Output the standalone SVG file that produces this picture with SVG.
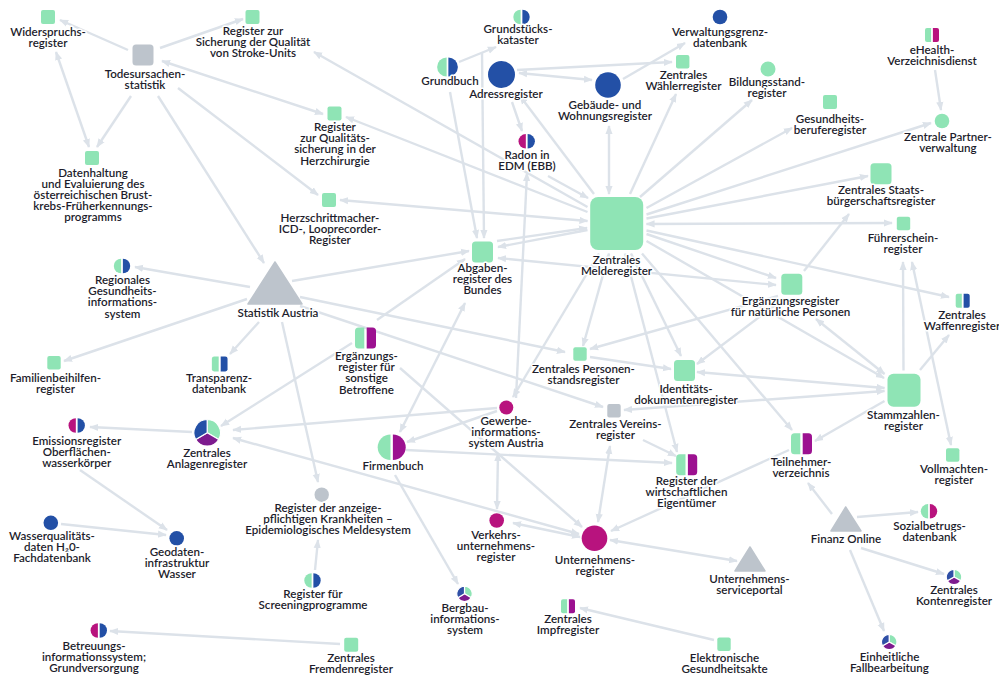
<svg xmlns="http://www.w3.org/2000/svg" width="999" height="675" viewBox="0 0 999 675">
<style>
.t{font-family:Lato,"Noto Sans","DejaVu Sans",sans-serif;font-size:11.6px;font-weight:600;fill:#1d1d2c;text-anchor:middle;stroke:#fff;stroke-width:3px;stroke-linejoin:round;paint-order:stroke}
.c line{stroke:#dce2e9;stroke-width:2.4;fill:none;marker-end:url(#a)}
.c line.b{marker-start:url(#a)}
.g{fill:#8fe4b5}.bl{fill:#2350a6}.m{fill:#b8137e}.p{fill:#9c1190}.gr{fill:#bdc4cc}
.pie path{stroke:#fff;stroke-width:1.2;stroke-linejoin:round}
</style>
<defs>
<marker id="a" viewBox="0 0 10 10" refX="9" refY="5" markerWidth="9" markerHeight="9" markerUnits="userSpaceOnUse" orient="auto-start-reverse"><path d="M0,1L10,5L0,9Z" fill="#dce2e9"/></marker>
<rect id="sq14" x="-7" y="-7" width="14" height="14" rx="2"/>
<rect id="sq13" x="-6.7" y="-6.7" width="13.4" height="13.4" rx="2"/>
<rect id="sq21" x="-10.5" y="-10.5" width="21" height="21" rx="3.5"/>
<path id="hcL7" d="M-0.9,-7.3A7.3,7.3 0 0 0 -0.9,7.3Z"/>
<path id="hcR7" d="M0.9,-7.3A7.3,7.3 0 0 1 0.9,7.3Z"/>
<path id="hcL13" d="M-1.2,-12.8A12.8,12.8 0 0 0 -1.2,12.8Z"/>
<path id="hcR13" d="M1.2,-12.8A12.8,12.8 0 0 1 1.2,12.8Z"/>
<path id="hrL14" d="M-0.9,-7H-5A2,2 0 0 0 -7,-5V5A2,2 0 0 0 -5,7H-0.9Z"/>
<path id="hrR14" d="M0.9,-7H5A2,2 0 0 1 7,-5V5A2,2 0 0 1 5,7H0.9Z"/>
<path id="hrL21" d="M-1.2,-10.5H-7A3.5,3.5 0 0 0 -10.5,-7V7A3.5,3.5 0 0 0 -7,10.5H-1.2Z"/>
<path id="hrR21" d="M1.2,-10.5H7A3.5,3.5 0 0 1 10.5,-7V7A3.5,3.5 0 0 1 7,10.5H1.2Z"/>
<g id="pie7" class="pie">
<path fill="#8fe4b5" d="M0,0V-7.7A7.7,7.7 0 0 1 6.67,3.85Z"/>
<path fill="#7d1b8e" d="M0,0L6.67,3.85A7.7,7.7 0 0 1 -6.67,3.85Z"/>
<path fill="#2f4fa6" d="M0,0L-6.67,3.85A7.7,7.7 0 0 1 0,-7.7Z"/>
</g>
<g id="pie13" class="pie">
<path fill="#8fe4b5" d="M0,0V-13.3A13.3,13.3 0 0 1 11.52,6.65Z"/>
<path fill="#7d1b8e" d="M0,0L11.52,6.65A13.3,13.3 0 0 1 -11.52,6.65Z"/>
<path fill="#2350a6" d="M0,0L-11.52,6.65A13.3,13.3 0 0 1 0,-13.3Z"/>
</g>
</defs>
<rect width="999" height="675" fill="#fff"/>
<g id="connectors" class="c">
<line x1="128" y1="50" x2="60" y2="20"/>
<line x1="160" y1="48" x2="243" y2="19"/>
<line x1="131" y1="96" x2="97" y2="147"/>
<line class="b" x1="56" y1="52" x2="89" y2="147"/>
<line class="b" x1="162" y1="61" x2="323" y2="114"/>
<line x1="178" y1="88" x2="318" y2="195"/>
<line x1="158" y1="96" x2="264" y2="263"/>
<line x1="587.5" y1="207" x2="314" y2="52"/>
<line x1="587.5" y1="212" x2="346" y2="117"/>
<line class="b" x1="587.5" y1="221" x2="340" y2="200"/>
<line x1="459" y1="62" x2="496" y2="47"/>
<line x1="450" y1="92" x2="477" y2="238"/>
<line x1="482" y1="52" x2="484" y2="238"/>
<line class="b" x1="519" y1="73" x2="592" y2="80"/>
<line x1="517" y1="70" x2="672" y2="62"/>
<line x1="623" y1="79" x2="685" y2="43"/>
<line x1="512" y1="102" x2="522" y2="131"/>
<line x1="594" y1="194" x2="520" y2="96"/>
<line class="b" x1="609" y1="194" x2="609" y2="126"/>
<line x1="630" y1="194" x2="676" y2="94"/>
<line x1="640" y1="197" x2="752" y2="100"/>
<line x1="646.5" y1="208" x2="792" y2="128"/>
<line x1="646.5" y1="214.5" x2="931" y2="123"/>
<line x1="646.5" y1="218.5" x2="868" y2="176"/>
<line class="b" x1="646.5" y1="224" x2="892" y2="223"/>
<line x1="646.5" y1="230.5" x2="949" y2="297"/>
<line x1="646.5" y1="234" x2="776" y2="278"/>
<line x1="646.5" y1="241" x2="884" y2="378"/>
<line x1="642" y1="253.5" x2="792" y2="430"/>
<line x1="625" y1="253.5" x2="677" y2="452"/>
<line x1="631" y1="253.5" x2="681" y2="356"/>
<line class="b" x1="609" y1="253.5" x2="583" y2="346"/>
<line x1="599" y1="253.5" x2="513" y2="397"/>
<line x1="587.5" y1="230" x2="498" y2="247"/>
<line x1="497" y1="241" x2="587" y2="228"/>
<line class="b" x1="498" y1="258" x2="776" y2="285"/>
<line x1="548" y1="176" x2="588" y2="198"/>
<line x1="935" y1="70" x2="941" y2="110"/>
<line x1="516" y1="398" x2="527" y2="173"/>
<line x1="250" y1="287" x2="135" y2="267"/>
<line x1="247" y1="299" x2="64" y2="361"/>
<line x1="259" y1="322" x2="230" y2="354"/>
<line x1="282" y1="322" x2="318" y2="482"/>
<line x1="292" y1="281" x2="469" y2="251"/>
<line x1="300" y1="297" x2="565" y2="352"/>
<line x1="300" y1="306" x2="603" y2="407"/>
<line x1="352" y1="343" x2="221" y2="426"/>
<line x1="377" y1="320" x2="465" y2="259"/>
<line x1="400" y1="368" x2="582" y2="527"/>
<line class="b" x1="465" y1="303" x2="400" y2="432"/>
<line x1="497" y1="408" x2="233" y2="430"/>
<line x1="497" y1="411" x2="407" y2="442"/>
<line class="b" x1="498" y1="453" x2="497" y2="509"/>
<line x1="406" y1="450" x2="672" y2="463"/>
<line x1="395" y1="475" x2="458" y2="584"/>
<line x1="192" y1="432" x2="90" y2="427"/>
<line class="b" x1="233" y1="438" x2="579" y2="534"/>
<line class="b" x1="513" y1="523" x2="580" y2="537"/>
<line class="b" x1="610" y1="540" x2="737" y2="561"/>
<line class="b" x1="610" y1="446" x2="598" y2="522"/>
<line x1="643" y1="440" x2="676" y2="456"/>
<line class="b" x1="884.5" y1="391" x2="624" y2="410"/>
<line x1="789" y1="450" x2="611" y2="531"/>
<line x1="80" y1="470" x2="167" y2="530"/>
<line x1="61" y1="524" x2="166" y2="535"/>
<line x1="315" y1="570" x2="318" y2="540"/>
<line x1="340" y1="644" x2="110" y2="631"/>
<line x1="714" y1="640" x2="580" y2="608"/>
<line x1="832" y1="514" x2="808" y2="483"/>
<line x1="857" y1="517" x2="918" y2="512"/>
<line x1="861" y1="548" x2="944" y2="574"/>
<line x1="850" y1="550" x2="884" y2="631"/>
<line x1="884.5" y1="401" x2="815" y2="441"/>
<line class="b" x1="912" y1="262" x2="951" y2="445"/>
<line x1="903.5" y1="370.5" x2="903" y2="262"/>
<line x1="920" y1="370" x2="949" y2="335"/>
<line class="b" x1="884.5" y1="374" x2="816" y2="319"/>
<line class="b" x1="884.5" y1="388" x2="697" y2="372"/>
<line x1="804" y1="271" x2="849" y2="214"/>
<line x1="778" y1="296" x2="590" y2="349"/>
<line x1="782" y1="300" x2="697" y2="364"/>
<line x1="590" y1="357" x2="671" y2="369"/>
</g>
<g id="n-widerspruch"><use href="#sq14" x="48" y="17" class="g"/><text class="t" x="48" y="36">Widerspruchs-<tspan x="48" dy="11.2">register</tspan></text></g>
<g id="n-todesursachen"><use href="#sq21" x="143" y="55" class="gr"/><text class="t" x="145" y="77.5">Todesursachen-<tspan x="145" dy="11.2">statistik</tspan></text></g>
<g id="n-stroke"><use href="#sq14" x="252.5" y="17" class="g"/><text class="t" x="253" y="35">Register zur<tspan x="253" dy="11.2">Sicherung der Qualität</tspan><tspan x="253" dy="11.2">von Stroke-Units</tspan></text></g>
<g id="n-datenhaltung"><use href="#sq14" x="92" y="158" class="g"/><text class="t" x="93" y="176.5">Datenhaltung<tspan x="93" dy="11.2">und Evaluierung des</tspan><tspan x="93" dy="11.2">österreichischen Brust-</tspan><tspan x="93" dy="11.2">krebs-Früherkennungs-</tspan><tspan x="93" dy="11.2">programms</tspan></text></g>
<g id="n-herzchirurgie"><use href="#sq14" x="334.5" y="113.5" class="g"/><text class="t" x="335" y="131">Register<tspan x="335" dy="11.2">zur Qualitäts-</tspan><tspan x="335" dy="11.2">sicherung in der</tspan><tspan x="335" dy="11.2">Herzchirurgie</tspan></text></g>
<g id="n-herzschrittmacher"><use href="#sq14" x="329" y="200" class="g"/><text class="t" x="330" y="221.5">Herzschrittmacher-<tspan x="330" dy="11.2">ICD-, Looprecorder-</tspan><tspan x="330" dy="11.2">Register</tspan></text></g>
<g id="n-grundbuch"><g transform="translate(447.5,67) scale(0.74)"><use href="#hcL13" class="g"/><use href="#hcR13" class="bl"/></g><text class="t" x="450" y="85">Grundbuch</text></g>
<g id="n-grundstueck"><use href="#hcL7" x="521.5" y="17" class="g"/><use href="#hcR7" x="521.5" y="17" class="bl"/><text class="t" x="518" y="33">Grundstücks-<tspan x="518" dy="11.2">kataster</tspan></text></g>
<g id="n-adress"><circle cx="501.5" cy="74.5" r="13.5" class="bl"/><text class="t" x="506" y="97.5">Adressregister</text></g>
<g id="n-radon"><use href="#hcL7" x="526.7" y="141.3" class="m"/><use href="#hcR7" x="526.7" y="141.3" class="bl"/><text class="t" x="527" y="159">Radon in<tspan x="527" dy="11.2">EDM (EBB)</tspan></text></g>
<g id="n-gebaeude"><circle cx="608" cy="85" r="12.8" class="bl"/><text class="t" x="605" y="109">Gebäude- und<tspan x="605" dy="11.2">Wohnungsregister</tspan></text></g>
<g id="n-verwaltungsgrenz"><circle cx="720" cy="17" r="7.3" class="bl"/><text class="t" x="720" y="36">Verwaltungsgrenz-<tspan x="720" dy="11.2">datenbank</tspan></text></g>
<g id="n-waehler"><use href="#sq13" x="682.7" y="61.7" class="g"/><text class="t" x="683.5" y="79">Zentrales<tspan x="683.5" dy="11.2">Wählerregister</tspan></text></g>
<g id="n-bildung"><circle cx="768" cy="69" r="7.5" class="g"/><text class="t" x="767" y="85.5">Bildungsstand-<tspan x="767" dy="11.2">register</tspan></text></g>
<g id="n-gesundheitsberufe"><use href="#sq14" x="830" y="102" class="g"/><text class="t" x="830" y="122.5">Gesundheits-<tspan x="830" dy="11.2">beruferegister</tspan></text></g>
<g id="n-ehealth"><use href="#hrL14" x="932" y="35" class="g"/><use href="#hrR14" x="932" y="35" class="m"/><text class="t" x="932" y="54">eHealth-<tspan x="932" dy="11.2">Verzeichnisdienst</tspan></text></g>
<g id="n-partner"><circle cx="942" cy="121" r="7.3" class="g"/><text class="t" x="948" y="140.5">Zentrale Partner-<tspan x="948" dy="11.2">verwaltung</tspan></text></g>
<g id="n-staatsbuerger"><use href="#sq21" x="881" y="173.7" class="g"/><text class="t" x="881" y="194">Zentrales Staats-<tspan x="881" dy="11.2">bürgerschaftsregister</tspan></text></g>
<g id="n-fuehrerschein"><use href="#sq13" x="903.5" y="223.5" class="g"/><text class="t" x="903" y="241.5">Führerschein-<tspan x="903" dy="11.2">register</tspan></text></g>
<g id="n-melderegister"><rect x="590.2" y="197" width="53" height="53" rx="8" class="g"/><text class="t" x="616.5" y="263.5">Zentrales<tspan x="616.5" dy="11.2">Melderegister</tspan></text></g>
<g id="n-abgaben"><use href="#sq21" x="482.5" y="252" class="g"/><text class="t" x="482.5" y="272">Abgaben-<tspan x="482.5" dy="11.2">register des</tspan><tspan x="482.5" dy="11.2">Bundes</tspan></text></g>
<g id="n-ergnat"><use href="#sq21" x="791.8" y="284.2" class="g"/><text class="t" x="790.5" y="305">Ergänzungsregister<tspan x="790.5" dy="11.2">für natürliche Personen</tspan></text></g>
<g id="n-waffen"><use href="#hrL14" x="962.7" y="300.7" class="g"/><use href="#hrR14" x="962.7" y="300.7" class="bl"/><text class="t" x="962" y="318.5">Zentrales<tspan x="962" dy="11.2">Waffenregister</tspan></text></g>
<g id="n-statistik"><polygon points="275,262 248,304 302,304" class="gr" stroke="#bdc4cc" stroke-width="1.5" stroke-linejoin="round"/><text class="t" x="278" y="316.5">Statistik Austria</text></g>
<g id="n-regional"><use href="#hcL7" x="122" y="266" class="g"/><use href="#hcR7" x="122" y="266" class="bl"/><text class="t" x="122.5" y="284">Regionales<tspan x="122.5" dy="11.2">Gesundheits-</tspan><tspan x="122.5" dy="11.2">informations-</tspan><tspan x="122.5" dy="11.2">system</tspan></text></g>
<g id="n-familien"><use href="#sq13" x="54" y="362.7" class="g"/><text class="t" x="55.5" y="381.5">Familienbeihilfen-<tspan x="55.5" dy="11.2">register</tspan></text></g>
<g id="n-transparenz"><g transform="translate(219.7,364) scale(1.12,1.07)"><use href="#hrL14" class="g"/><use href="#hrR14" class="bl"/></g><text class="t" x="219" y="382">Transparenz-<tspan x="219" dy="11.2">datenbank</tspan></text></g>
<g id="n-ergsonst"><use href="#hrL21" x="365.5" y="338" class="g"/><use href="#hrR21" x="365.5" y="338" class="p"/><text class="t" x="366.5" y="360">Ergänzungs-<tspan x="366.5" dy="11.2">register für</tspan><tspan x="366.5" dy="11.2">sonstige</tspan><tspan x="366.5" dy="11.2">Betroffene</tspan></text></g>
<g id="n-personenstand"><use href="#sq13" x="580" y="354" class="g"/><text class="t" x="583.5" y="372.5">Zentrales Personen-<tspan x="583.5" dy="11.2">standsregister</tspan></text></g>
<g id="n-identitaet"><use href="#sq21" x="684.5" y="370.5" class="g"/><text class="t" x="686" y="392.5">Identitäts-<tspan x="686" dy="11.2">dokumentenregister</tspan></text></g>
<g id="n-stammzahlen"><rect x="887.5" y="373.8" width="33" height="33" rx="6" class="g"/><text class="t" x="903.5" y="418.5">Stammzahlen-<tspan x="903.5" dy="11.2">register</tspan></text></g>
<g id="n-emission"><use href="#hcL7" x="76.7" y="425.5" class="m"/><use href="#hcR7" x="76.7" y="425.5" class="bl"/><text class="t" x="76.7" y="444.5">Emissionsregister<tspan x="76.7" dy="11.2">Oberflächen-</tspan><tspan x="76.7" dy="11.2">wasserkörper</tspan></text></g>
<g id="n-anlagen"><use href="#pie13" x="207.2" y="432.8"/><text class="t" x="207" y="456.5">Zentrales<tspan x="207" dy="11.2">Anlagenregister</tspan></text></g>
<g id="n-gewerbe"><circle cx="506.3" cy="407.5" r="7" class="m"/><text class="t" x="506" y="425">Gewerbe-<tspan x="506" dy="11.2">informations-</tspan><tspan x="506" dy="11.2">system Austria</tspan></text></g>
<g id="n-verein"><use href="#sq13" x="614" y="410.7" class="gr"/><text class="t" x="615.5" y="428">Zentrales Vereins-<tspan x="615.5" dy="11.2">register</tspan></text></g>
<g id="n-firmenbuch"><use href="#hcL13" x="391.7" y="447.3" class="g"/><use href="#hcR13" x="391.7" y="447.3" class="p"/><text class="t" x="393" y="470">Firmenbuch</text></g>
<g id="n-wirtschaftl"><use href="#hrL21" x="686.7" y="464.7" class="g"/><use href="#hrR21" x="686.7" y="464.7" class="p"/><text class="t" x="686.5" y="485">Register der<tspan x="686.5" dy="11.2">wirtschaftlichen</tspan><tspan x="686.5" dy="11.2">Eigentümer</tspan></text></g>
<g id="n-teilnehmer"><use href="#hrL21" x="801.5" y="443.8" class="g"/><use href="#hrR21" x="801.5" y="443.8" class="p"/><text class="t" x="801" y="465.5">Teilnehmer-<tspan x="801" dy="11.2">verzeichnis</tspan></text></g>
<g id="n-vollmachten"><use href="#sq13" x="952.7" y="455" class="g"/><text class="t" x="954" y="473">Vollmachten-<tspan x="954" dy="11.2">register</tspan></text></g>
<g id="n-anzeige"><circle cx="321.7" cy="494.7" r="7.2" class="gr"/><text class="t" x="328" y="511.5">Register der anzeige-<tspan x="328" dy="11.2">pflichtigen Krankheiten –</tspan><tspan x="328" dy="11.2">Epidemiologisches Meldesystem</tspan></text></g>
<g id="n-wasserqual"><circle cx="50.8" cy="522.8" r="7.3" class="bl"/><text class="t" x="52" y="539.5">Wasserqualitäts-<tspan x="52" dy="11.2">daten H₂0-</tspan><tspan x="52" dy="11.2">Fachdatenbank</tspan></text></g>
<g id="n-geodaten"><circle cx="176.7" cy="538.3" r="7.3" class="bl"/><text class="t" x="177" y="556">Geodaten-<tspan x="177" dy="11.2">infrastruktur</tspan><tspan x="177" dy="11.2">Wasser</tspan></text></g>
<g id="n-verkehr"><circle cx="496.7" cy="520.5" r="7.3" class="m"/><text class="t" x="496" y="538.5">Verkehrs-<tspan x="496" dy="11.2">unternehmens-</tspan><tspan x="496" dy="11.2">register</tspan></text></g>
<g id="n-unternehmen"><circle cx="594.5" cy="538.3" r="12.8" class="m"/><text class="t" x="595" y="564">Unternehmens-<tspan x="595" dy="11.2">register</tspan></text></g>
<g id="n-usp"><polygon points="750,547 735,571 765,571" class="gr" stroke="#bdc4cc" stroke-width="1.5" stroke-linejoin="round"/><text class="t" x="749.5" y="582.5">Unternehmens-<tspan x="749.5" dy="11.2">serviceportal</tspan></text></g>
<g id="n-finanz"><polygon points="845.7,507 831,531 861,531" class="gr" stroke="#bdc4cc" stroke-width="1.5" stroke-linejoin="round"/><text class="t" x="846" y="542.5">Finanz Online</text></g>
<g id="n-sozial"><use href="#hcL7" x="929" y="511.3" class="g"/><use href="#hcR7" x="929" y="511.3" class="m"/><text class="t" x="929.5" y="530">Sozialbetrugs-<tspan x="929.5" dy="11.2">datenbank</tspan></text></g>
<g id="n-screening"><use href="#hcL7" x="312.5" y="580.5" class="g"/><use href="#hcR7" x="312.5" y="580.5" class="bl"/><text class="t" x="313" y="597.5">Register für<tspan x="313" dy="11.2">Screeningprogramme</tspan></text></g>
<g id="n-bergbau"><use href="#pie7" x="464.5" y="593.8"/><text class="t" x="465" y="611.5">Bergbau-<tspan x="465" dy="11.2">informations-</tspan><tspan x="465" dy="11.2">system</tspan></text></g>
<g id="n-konten"><use href="#pie7" x="954" y="577"/><text class="t" x="954" y="594">Zentrales<tspan x="954" dy="11.2">Kontenregister</tspan></text></g>
<g id="n-impf"><use href="#hrL14" x="568" y="606.3" class="g"/><use href="#hrR14" x="568" y="606.3" class="p"/><text class="t" x="568" y="623">Zentrales<tspan x="568" dy="11.2">Impfregister</tspan></text></g>
<g id="n-elga"><use href="#sq13" x="724" y="644.3" class="g"/><text class="t" x="724.5" y="661.5">Elektronische<tspan x="724.5" dy="11.2">Gesundheitsakte</tspan></text></g>
<g id="n-einheitlich"><use href="#pie7" x="889.2" y="642"/><text class="t" x="889.5" y="661">Einheitliche<tspan x="889.5" dy="11.2">Fallbearbeitung</tspan></text></g>
<g id="n-betreuung"><use href="#hcL7" x="98.8" y="630.5" class="m"/><use href="#hcR7" x="98.8" y="630.5" class="bl"/><text class="t" x="94" y="650">Betreuungs-<tspan x="94" dy="11.2">informationssystem;</tspan><tspan x="94" dy="11.2">Grundversorgung</tspan></text></g>
<g id="n-fremden"><use href="#sq14" x="351.2" y="644.7" class="g"/><text class="t" x="351" y="661.5">Zentrales<tspan x="351" dy="11.2">Fremdenregister</tspan></text></g>
</svg>
